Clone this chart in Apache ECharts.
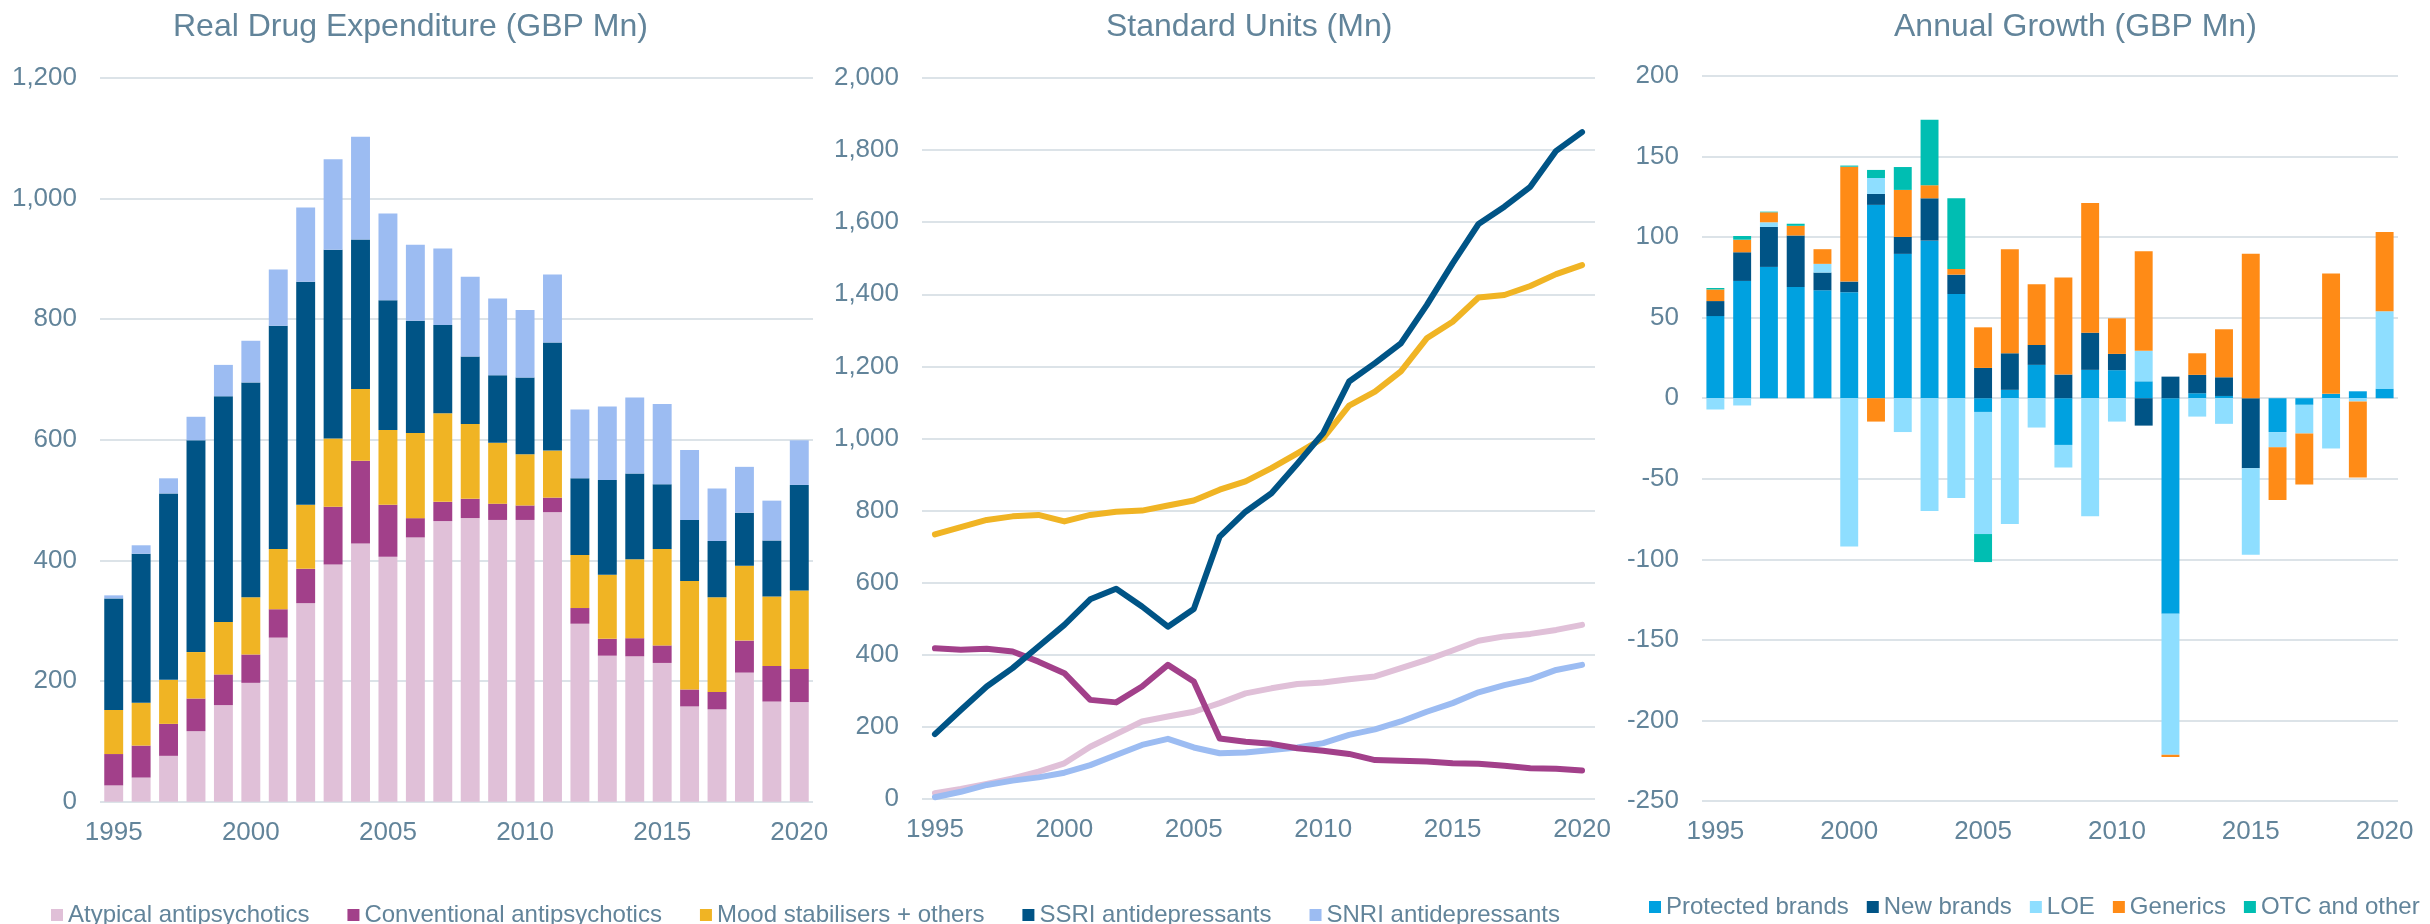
<!DOCTYPE html>
<html>
<head>
<meta charset="utf-8">
<script src="https://cdn.jsdelivr.net/npm/echarts@6/dist/echarts.min.js"></script>
<style>
html,body{margin:0;padding:0;background:#fff;}
#c{width:2430px;height:924px;}
</style>
</head>
<body>
<div id="c"></div>
<script>
// ---------- DATA ----------
const years = ['1995','1996','1997','1998','1999','2000','2001','2002','2003','2004','2005','2006','2007','2008','2009','2010','2011','2012','2013','2014','2015','2016','2017','2018','2019','2020'];
const yearNums = [1995,1996,1997,1998,1999,2000,2001,2002,2003,2004,2005,2006,2007,2008,2009,2010,2011,2012,2013,2014,2015,2016,2017,2018,2019,2020];
const yearTicks = [1995,2000,2005,2010,2015,2020];

const drugNames = ['Atypical antipsychotics','Conventional antipsychotics','Mood stabilisers + others','SSRI antidepressants','SNRI antidepressants'];
const growthNames = ['Protected brands','New brands','LOE','Generics','OTC and other'];

// Real Drug Expenditure (GBP Mn), stacked
const expAtypical     = [27,40,76,117,160,197,272,329,393,428,406,438,465,470,467,467,480,295,242,241,230,158,153,214,166,165];
const expConventional = [52,53,53,54,51,47,47,57,96,137,86,32,32,32,27,24,24,26,28,30,29,28,29,53,59,55];
const expMood         = [73,71,73,77,87,95,100,106,113,119,124,141,147,124,101,85,78,88,106,131,160,180,157,124,115,130];
const expSSRI         = [185,247,309,351,374,356,370,370,313,248,215,186,146,112,112,127,179,127,157,142,107,101,93,88,93,175];
const expSNRI         = [5,14,25,39,52,69,93,123,150,170,144,126,127,132,127,112,113,114,122,126,133,116,87,76,66,74];

// Standard Units (Mn)
const suAtypical     = [16,28,42,57,76,99,145,180,215,229,242,266,293,307,319,323,332,340,363,386,412,439,451,458,469,483];
const suConventional = [418,414,417,409,381,349,275,268,312,372,326,168,159,153,141,134,125,108,106,104,99,98,92,85,84,79];
const suMood         = [734,754,774,784,788,770,788,797,800,814,828,858,881,918,959,1001,1091,1130,1186,1278,1324,1391,1398,1423,1456,1481];
const suSSRI         = [180,247,312,363,423,483,554,583,534,478,527,728,797,848,930,1015,1158,1209,1264,1370,1486,1595,1643,1698,1798,1850];
const suSNRI         = [5,20,39,51,60,73,94,122,150,167,143,127,129,136,143,155,178,193,215,242,266,296,316,332,358,372];

// Annual Growth (GBP Mn), stacked by sign
const grProtected = [51,72.8,81.5,69,67,65.8,120,89.6,97.8,64.7,-8.5,5.2,20.7,-29,17.6,17.4,10.5,-133.7,3.1,1.4,0,-21,-4.1,2.7,4.3,5.8];
const grNew       = [9.3,17.8,24.8,32,11,6.6,6.8,10.5,26.3,12,18.8,22.7,12.4,14.7,23.1,10.1,-17,13.4,11.4,11.6,-43.4,0,0,0,0,0];
const grLOE       = [-7,-4.5,2.9,0,5.4,-92,9.9,-21,-70,-62,-75.8,-78,-18.2,-14,-73.3,-14.5,18.9,-87.6,-11.4,-15.9,-53.7,-9.5,-17.8,-31.2,-2,48.2];
const grGenerics  = [7.2,7.8,6.2,6,9.1,71.3,-14.5,29.2,8.1,3.5,25.2,64.6,37.6,60.2,80.5,22.1,61.8,-1.4,13.4,29.8,89.6,-32.6,-31.6,74.7,-47.2,49.2];
const grOTC       = [0.9,2.3,0.4,1.3,0,0.7,5,14.2,40.7,43.9,-17.4,0,0,0,0,0,0,0,0,0,0,0,0,0,0,0];

// ---------- STYLE ----------
const FONT = 'Liberation Sans, Arial, sans-serif';
const TXT = '#62849A';
const GRIDC = '#DCE3E8';
const drugColors = ['#E0C0D8','#A2408A','#F0B424','#005486','#9CBCF2'];
const growthColors = ['#00A1E0','#005486','#8EDEFF','#FF8B16','#00BEB2'];

const chart = echarts.init(document.getElementById('c'), null, {renderer:'canvas'});

const titleStyle = {color: TXT, fontSize: 32, fontFamily: FONT, fontWeight: 'normal'};
const axisLabelStyle = {color: TXT, fontSize: 26, fontFamily: FONT};

function yAxisBase(gridIndex, min, max, interval) {
  return {
    type: 'value', gridIndex, min, max, interval,
    axisLine: {show: false}, axisTick: {show: false},
    axisLabel: Object.assign({margin: 23}, axisLabelStyle),
    splitLine: {show: true, lineStyle: {color: GRIDC, width: 2}}
  };
}

const expSeriesData = [expAtypical, expConventional, expMood, expSSRI, expSNRI];
const suSeriesData = [suAtypical, suConventional, suMood, suSSRI, suSNRI];
const grSeriesData = [grProtected, grNew, grLOE, grGenerics, grOTC];

const series = [];
expSeriesData.forEach((d, i) => {
  series.push({
    name: drugNames[i], type: 'bar', stack: 'exp', xAxisIndex: 0, yAxisIndex: 0,
    data: d, barCategoryGap: '31%',
    itemStyle: {color: drugColors[i]}
  });
});
// line draw order: atypical, SNRI, conventional, mood, SSRI
[0, 4, 1, 2, 3].forEach(i => {
  series.push({
    name: drugNames[i], type: 'line', xAxisIndex: 1, yAxisIndex: 1,
    data: suSeriesData[i].map((v, k) => [yearNums[k], v]),
    showSymbol: false, symbol: 'none',
    lineStyle: {color: drugColors[i], width: 6, cap: 'round', join: 'round'},
    itemStyle: {color: drugColors[i]}
  });
});
grSeriesData.forEach((d, i) => {
  series.push({
    name: growthNames[i], type: 'bar', stack: 'gr', xAxisIndex: 2, yAxisIndex: 2,
    data: d, barCategoryGap: '33%',
    itemStyle: {color: growthColors[i]}
  });
});

const option = {
  animation: false,
  backgroundColor: '#fff',
  textStyle: {fontFamily: FONT},
  title: [
    {text: 'Real Drug Expenditure (GBP Mn)', left: 168, top: 6, textStyle: titleStyle},
    {text: 'Standard Units (Mn)', left: 1101, top: 6, textStyle: titleStyle},
    {text: 'Annual Growth (GBP Mn)', left: 1889, top: 6, textStyle: titleStyle}
  ],
  legend: [
    {data: drugNames, left: 46, top: 898, icon: 'rect', itemWidth: 12, itemHeight: 12, itemGap: 38,
     textStyle: {color: TXT, fontSize: 24, fontFamily: FONT}},
    {data: growthNames, left: 1644, top: 890, icon: 'rect', itemWidth: 12, itemHeight: 12, itemGap: 18,
     textStyle: {color: TXT, fontSize: 24, fontFamily: FONT}}
  ],
  grid: [
    {left: 100, width: 713, top: 77.7, height: 724, containLabel: false},
    {left: 922, width: 673, top: 78, height: 721, containLabel: false},
    {left: 1702, width: 696, top: 76, height: 725, containLabel: false}
  ],
  xAxis: [
    {type: 'category', gridIndex: 0, data: years, boundaryGap: true,
     axisLine: {show: false}, axisTick: {show: false},
     axisLabel: Object.assign({interval: 4, margin: 18}, axisLabelStyle)},
    {type: 'value', gridIndex: 1, min: 1994.5, max: 2020.5,
     axisLine: {show: false}, axisTick: {show: false}, splitLine: {show: false},
     axisLabel: Object.assign({margin: 18, customValues: yearTicks, formatter: v => String(v)}, axisLabelStyle)},
    {type: 'category', gridIndex: 2, data: years, boundaryGap: true, position: 'bottom',
     axisLine: {show: false, onZero: false}, axisTick: {show: false},
     axisLabel: Object.assign({interval: 4, margin: 18}, axisLabelStyle)}
  ],
  yAxis: [
    yAxisBase(0, 0, 1200, 200),
    yAxisBase(1, 0, 2000, 200),
    yAxisBase(2, -250, 200, 50)
  ],
  series
};
chart.setOption(option);
</script>
</body>
</html>
